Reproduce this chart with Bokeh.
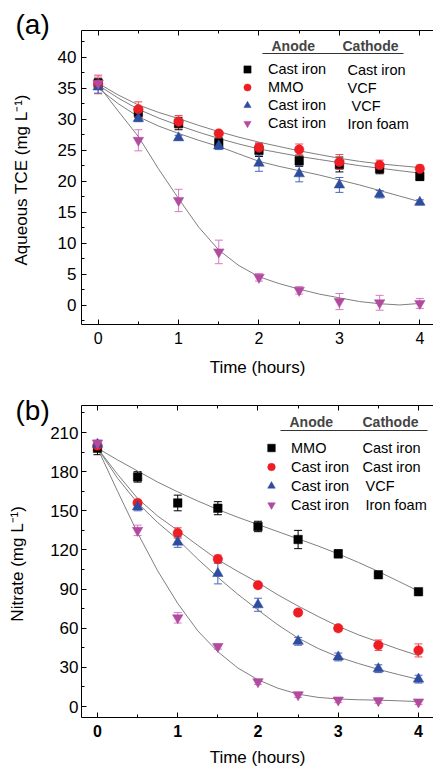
from bokeh.plotting import figure
from bokeh.models import (ColumnDataSource, Whisker, TeeHead, Legend, LegendItem, Label,
                          BoxAnnotation, LinearAxis, SingleIntervalTicker, Range1d, Title)
from bokeh.layouts import column
from bokeh.embed import file_html
from bokeh.resources import INLINE

FONT = "Liberation Sans"

# ---------------- data ----------------
time_h = [0, 0.5, 1, 1.5, 2, 2.5, 3, 3.5, 4]
fit_time_h = [0, 0.25, 0.5, 0.75, 1, 1.25, 1.5, 1.75, 2, 2.25, 2.5, 2.75, 3, 3.25, 3.5, 3.75, 4]

# (a) Aqueous TCE (mg/L)
tce_anode = ["Cast iron", "MMO", "Cast iron", "Cast iron"]
tce_cathode = ["Cast iron", "VCF", "VCF", "Iron foam"]

tce_ci_ci = [35.8, 31.1, 29.3, 26.2, 25.0, 23.3, 22.7, 22.0, 20.8]
tce_mmo_vcf = [35.6, 31.6, 29.6, 27.7, 25.4, 25.1, 23.1, 22.6, 22.0]
tce_ci_vcf = [35.2, 30.1, 27.0, 25.7, 22.9, 21.2, 19.4, 17.9, 16.6]
tce_ci_foam = [35.8, 26.6, 16.9, 8.6, 4.5, 2.4, 0.6, 0.4, 0.3]

tce_ci_ci_err = [0.8, 0.8, 1.0, 0.8, 1.0, 0.9, 1.2, 0.8, 0.7]
tce_mmo_vcf_err = [1.5, 1.2, 1.0, 0.3, 0.8, 0.9, 1.2, 0.8, 0.6]
tce_ci_vcf_err = [1.0, 0.5, 0.4, 0.6, 1.3, 1.3, 1.2, 0.6, 0.4]
tce_ci_foam_err = [1.0, 1.7, 1.8, 1.9, 0.6, 0.6, 1.3, 1.2, 0.8]

tce_ci_ci_fit = [35.5, 33.4, 31.6, 30.2, 29.0, 27.9, 26.9, 26.0, 25.2, 24.6, 24.0, 23.5, 23.0, 22.5, 22.1, 21.7, 21.3]
tce_mmo_vcf_fit = [35.8, 33.9, 32.3, 31.1, 30.1, 29.0, 28.0, 27.1, 26.3, 25.6, 24.9, 24.3, 23.7, 23.2, 22.8, 22.5, 22.2]
tce_ci_vcf_fit = [35.0, 32.5, 30.4, 28.9, 27.7, 26.6, 25.6, 24.4, 23.2, 22.4, 21.7, 21.0, 20.2, 19.4, 18.5, 17.6, 16.7]
tce_ci_foam_fit = [35.5, 31.3, 27.2, 22.0, 17.2, 12.6, 8.9, 6.4, 4.6, 3.5, 2.6, 1.8, 1.2, 0.6, 0.25, 0.05, 0.3]

# (b) Nitrate (mg/L)
no3_anode = ["MMO", "Cast iron", "Cast iron", "Cast iron"]
no3_cathode = ["Cast iron", "Cast iron", "VCF", "Iron foam"]

no3_mmo_ci = [198, 176, 156, 152, 138, 128, 117, 101, 88]
no3_ci_ci = [200, 156, 133, 113, 93, 72, 60, 47, 43]
no3_ci_vcf = [201, 153, 126, 102, 78, 50, 38, 29, 21]
no3_ci_foam = [202, 135, 68, 46, 19, 9, 5, 4.5, 3.5]

no3_mmo_ci_err = [5, 4, 6, 5, 4, 7, 3, 1, 1]
no3_ci_ci_err = [3, 2, 4, 3, 2, 2, 2, 4, 5]
no3_ci_vcf_err = [3, 3, 4, 8, 5, 3, 3, 3, 3]
no3_ci_foam_err = [2, 4, 4, 2, 2, 2, 2, 2, 2]

no3_mmo_ci_fit = [198, 189, 180.5, 172, 164.5, 157.5, 151, 145, 139.5, 134, 128.5, 123, 117, 110.5, 103.5, 96, 88.5]
no3_ci_ci_fit = [198, 178, 159.5, 146, 135, 123.5, 112.5, 103.5, 95, 85.5, 77, 69, 61.5, 55, 49.5, 44, 39]
no3_ci_vcf_fit = [198, 175, 156, 141, 128, 113, 99, 86, 74, 62.5, 52.5, 44.5, 38, 33, 28.5, 24.5, 20.8]
no3_ci_foam_fit = [198, 165, 133, 104, 79, 58, 42, 29.5, 20.5, 14, 9.5, 7, 5.8, 5.2, 4.9, 4.4, 3.8]

# ---------------- styles ----------------
markers = ["square", "circle", "triangle", "inverted_triangle"]
marker_sizes = [8.5, 9.5, 10.5, 10.5]
colors = ["#000000", "#ee1d23", "#2f4d9e", "#b24b9f"]
err_colors = ["#000000", "#ef4a55", "#4a68bf", "#d77ac6"]


def style_lines(ax):
    ax.axis_line_color = "black"
    ax.axis_line_width = 1
    ax.major_tick_line_color = "black"
    ax.minor_tick_line_color = "black"
    ax.major_tick_in = 5
    ax.major_tick_out = 0
    ax.minor_tick_in = 3
    ax.minor_tick_out = 0


def style_axis(ax, label_size, bold=False, standoff=5):
    style_lines(ax)
    ax.major_label_text_font = FONT
    ax.major_label_text_font_size = label_size
    ax.major_label_text_color = "black"
    ax.major_label_standoff = standoff
    if bold:
        ax.major_label_text_font_style = "bold"
    ax.axis_label_text_font = FONT
    ax.axis_label_text_font_size = "17px"
    ax.axis_label_text_font_style = "normal"
    ax.axis_label_text_color = "black"


def make_panel(means, errs, fits, anodes, cathodes, cathode_dx,
               xr, yr, ytick, ylabel, letter, g, xbold):
    p = figure(width=g["w"], height=g["h"],
               x_range=Range1d(*xr), y_range=Range1d(*yr),
               output_backend="svg", toolbar_location=None,
               min_border_left=g["bl"], min_border_right=0,
               min_border_top=g["bt"], min_border_bottom=g["bb"],
               x_axis_label="Time (hours)", y_axis_label=ylabel)
    p.grid.visible = False
    p.outline_line_color = None
    p.background_fill_color = "white"
    p.border_fill_color = "white"

    p.xaxis.ticker = SingleIntervalTicker(interval=1, num_minor_ticks=2)
    p.yaxis.ticker = SingleIntervalTicker(interval=ytick, num_minor_ticks=2)
    for ax in p.xaxis:
        style_axis(ax, "16px", bold=xbold, standoff=g["xso"])
        ax.axis_label_standoff = g["xlso"]
    for ax in p.yaxis:
        style_axis(ax, "17px", standoff=g["yso"])
        ax.axis_label_standoff = g["ylso"]

    top = LinearAxis(ticker=SingleIntervalTicker(interval=1, num_minor_ticks=2))
    style_lines(top)
    top.major_label_text_alpha = 0
    p.add_layout(top, "above")
    p.add_layout(Title(text=letter, text_font=FONT, text_font_size="28px",
                       text_font_style="normal", text_color="black", align="left",
                       offset=g["toff"], standoff=g["tso"]), "above")

    items = []
    for i in range(4):
        p.line(fit_time_h, fits[i], line_color="#7f7f7f", line_width=1)
    for i in range(4):
        up = [m + e for m, e in zip(means[i], errs[i])]
        lo = [m - e for m, e in zip(means[i], errs[i])]
        src = ColumnDataSource(dict(t=time_h, up=up, lo=lo))
        w = Whisker(source=src, base="t", upper="up", lower="lo",
                    line_color=err_colors[i], line_width=1,
                    upper_head=TeeHead(size=8, line_color=err_colors[i], line_width=1),
                    lower_head=TeeHead(size=8, line_color=err_colors[i], line_width=1))
        p.add_layout(w)
    for i in range(4):
        r = p.scatter(time_h, means[i], marker=markers[i], size=marker_sizes[i],
                      fill_color=colors[i], line_color=colors[i], line_width=0.5)
        items.append(LegendItem(label=anodes[i], renderers=[r]))

    legend = Legend(items=items, location=(g["lx"], g["ly"]), orientation="vertical",
                    glyph_width=20, glyph_height=g["rh"], label_height=g["rh"],
                    spacing=0, padding=0, margin=0, label_standoff=g["lso"],
                    label_text_font=FONT, label_text_font_size="14.5px",
                    label_text_color="black",
                    border_line_color=None, background_fill_alpha=0)
    p.add_layout(legend)

    for i in range(4):
        p.add_layout(Label(x=g["cx"] + cathode_dx[i], y=g["cy"] - g["rh"] * i,
                           x_units="screen", y_units="screen", text=cathodes[i],
                           text_font=FONT, text_font_size="14.5px", text_baseline="middle",
                           text_color="black"))
    p.add_layout(Label(x=g["hax"], y=g["hy"], x_units="screen", y_units="screen",
                       text="Anode", text_font=FONT, text_font_size="14px",
                       text_font_style="bold", text_baseline="middle"))
    p.add_layout(Label(x=g["hcx"], y=g["hy"], x_units="screen", y_units="screen",
                       text="Cathode", text_font=FONT, text_font_size="14px",
                       text_font_style="bold", text_baseline="middle"))
    p.add_layout(BoxAnnotation(left=g["ul"], right=g["ur"], bottom=g["uy"] - 0.6,
                               top=g["uy"] + 0.6, left_units="screen", right_units="screen",
                               bottom_units="screen", top_units="screen",
                               fill_color="#333333", fill_alpha=1, line_color=None))
    return p


geom_a = dict(w=433, h=380, bl=79, bt=30, bb=56,
              xso=7, xlso=11, yso=5, ylso=24,
              toff=-66, tso=-19,
              lx=156, ly=192, rh=18, lso=11,
              cx=266, cy=255, hax=190, hcx=261, hy=279,
              ul=181, ur=322, uy=271)
geom_b = dict(w=433, h=390, bl=81, bt=25, bb=53,
              xso=7, xlso=8, yso=3, ylso=20,
              toff=-66, tso=-41,
              lx=180, ly=203, rh=19, lso=10,
              cx=281, cy=269.5, hax=208, hcx=281, hy=296,
              ul=199, ur=346, uy=287)

pa = make_panel([tce_ci_ci, tce_mmo_vcf, tce_ci_vcf, tce_ci_foam],
                [tce_ci_ci_err, tce_mmo_vcf_err, tce_ci_vcf_err, tce_ci_foam_err],
                [tce_ci_ci_fit, tce_mmo_vcf_fit, tce_ci_vcf_fit, tce_ci_foam_fit],
                tce_anode, tce_cathode, [0, 0, 4, 0],
                (-0.207, 4.17), (-3.1, 44.3), 5, "Aqueous TCE  (mg L\u207b\u00b9)", "(a)",
                geom_a, False)
pb = make_panel([no3_mmo_ci, no3_ci_ci, no3_ci_vcf, no3_ci_foam],
                [no3_mmo_ci_err, no3_ci_ci_err, no3_ci_vcf_err, no3_ci_foam_err],
                [no3_mmo_ci_fit, no3_ci_ci_fit, no3_ci_vcf_fit, no3_ci_foam_fit],
                no3_anode, no3_cathode, [0, 0, 3, 3],
                (-0.199, 4.187), (-8.4, 230.7), 30, "Nitrate  (mg L\u207b\u00b9)", "(b)",
                geom_b, True)

layout = column(pa, pb, spacing=0)
open("out.html", "w").write(file_html(layout, INLINE))
